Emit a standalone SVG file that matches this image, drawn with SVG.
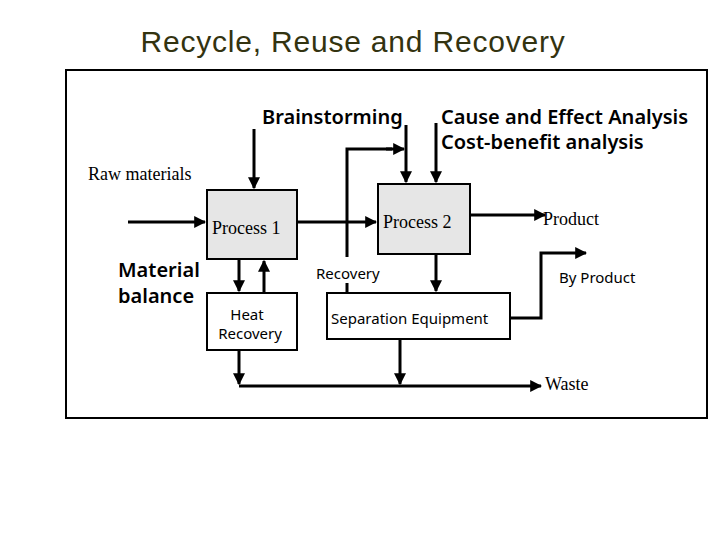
<svg xmlns="http://www.w3.org/2000/svg" width="720" height="540" viewBox="0 0 720 540">
<defs>
<marker id="ah" viewBox="0 0 10 10" refX="9" refY="5" markerWidth="4" markerHeight="4" orient="auto" markerUnits="strokeWidth"><path d="M0,0L10,5L0,10z" fill="#000"/></marker>
<style>
.ln{stroke:#000;stroke-width:3;fill:none}
.ar{stroke:#000;stroke-width:3;fill:none;marker-end:url(#ah)}
.bx{stroke:#000;stroke-width:2;fill:#fff}
.sh{stroke:#000;stroke-width:2;fill:#e6e6e6}
.sf{font-family:"Liberation Serif",serif;font-size:18px}
.ss{font-family:"Noto Sans","DejaVu Sans",sans-serif;font-size:15px}
.sb{font-family:"Noto Sans","DejaVu Sans",sans-serif;font-size:20px;font-weight:600}
</style>
</defs>
<rect width="720" height="540" fill="#fff"/>
<text x="353" y="52" text-anchor="middle" font-family="Liberation Sans,sans-serif" font-size="30" letter-spacing="0.8" fill="#333310">Recycle, Reuse and Recovery</text>
<rect x="66" y="70" width="641" height="348" fill="none" stroke="#000" stroke-width="2"/>
<g id="connectors">
<path class="ar" d="M128,222H205"/>
<path class="ar" d="M254,129V188"/>
<path class="ar" d="M298,222H376"/>
<path class="ln" d="M347,257V149H392"/>
<path class="ar" d="M386,149H404"/>
<path class="ar" d="M406,125V182"/>
<path class="ar" d="M436,123V182"/>
<path class="ln" d="M347,283V293"/>
<path class="ar" d="M471,215H545"/>
<path class="ar" d="M436,255V291"/>
<path class="ar" d="M511,318H541V253H586"/>
<path class="ar" d="M239,260V291"/>
<path class="ar" d="M264,292V261"/>
<path class="ar" d="M239,351V384"/>
<path class="ar" d="M400,340V384"/>
<path class="ar" d="M239,386H541"/>
</g>
<g id="process1"><rect class="sh" x="207" y="190" width="90" height="69"/><text class="sf" x="212" y="234">Process 1</text></g>
<g id="process2"><rect class="sh" x="378" y="184" width="92" height="70"/><text class="sf" x="383" y="228">Process 2</text></g>
<g id="heat"><rect class="bx" x="207" y="293" width="90" height="57"/><text class="ss" x="247" y="320" text-anchor="middle">Heat</text><text class="ss" x="250" y="339" text-anchor="middle">Recovery</text></g>
<g id="separation"><rect class="bx" x="327" y="293" width="183" height="46"/><text class="ss" x="331" y="324">Separation Equipment</text></g>
<g id="labels">
<text class="sb" x="262" y="124">Brainstorming</text>
<text class="sb" x="441" y="124">Cause and Effect Analysis</text>
<text class="sb" x="441" y="149">Cost-benefit analysis</text>
<text class="sf" x="88" y="180">Raw materials</text>
<text class="sb" x="118" y="277">Material</text>
<text class="sb" x="118" y="303">balance</text>
<text class="ss" x="316" y="279">Recovery</text>
<text class="sf" x="543" y="225">Product</text>
<text class="ss" x="559" y="283">By Product</text>
<text class="sf" x="545" y="390">Waste</text>
</g>
</svg>
